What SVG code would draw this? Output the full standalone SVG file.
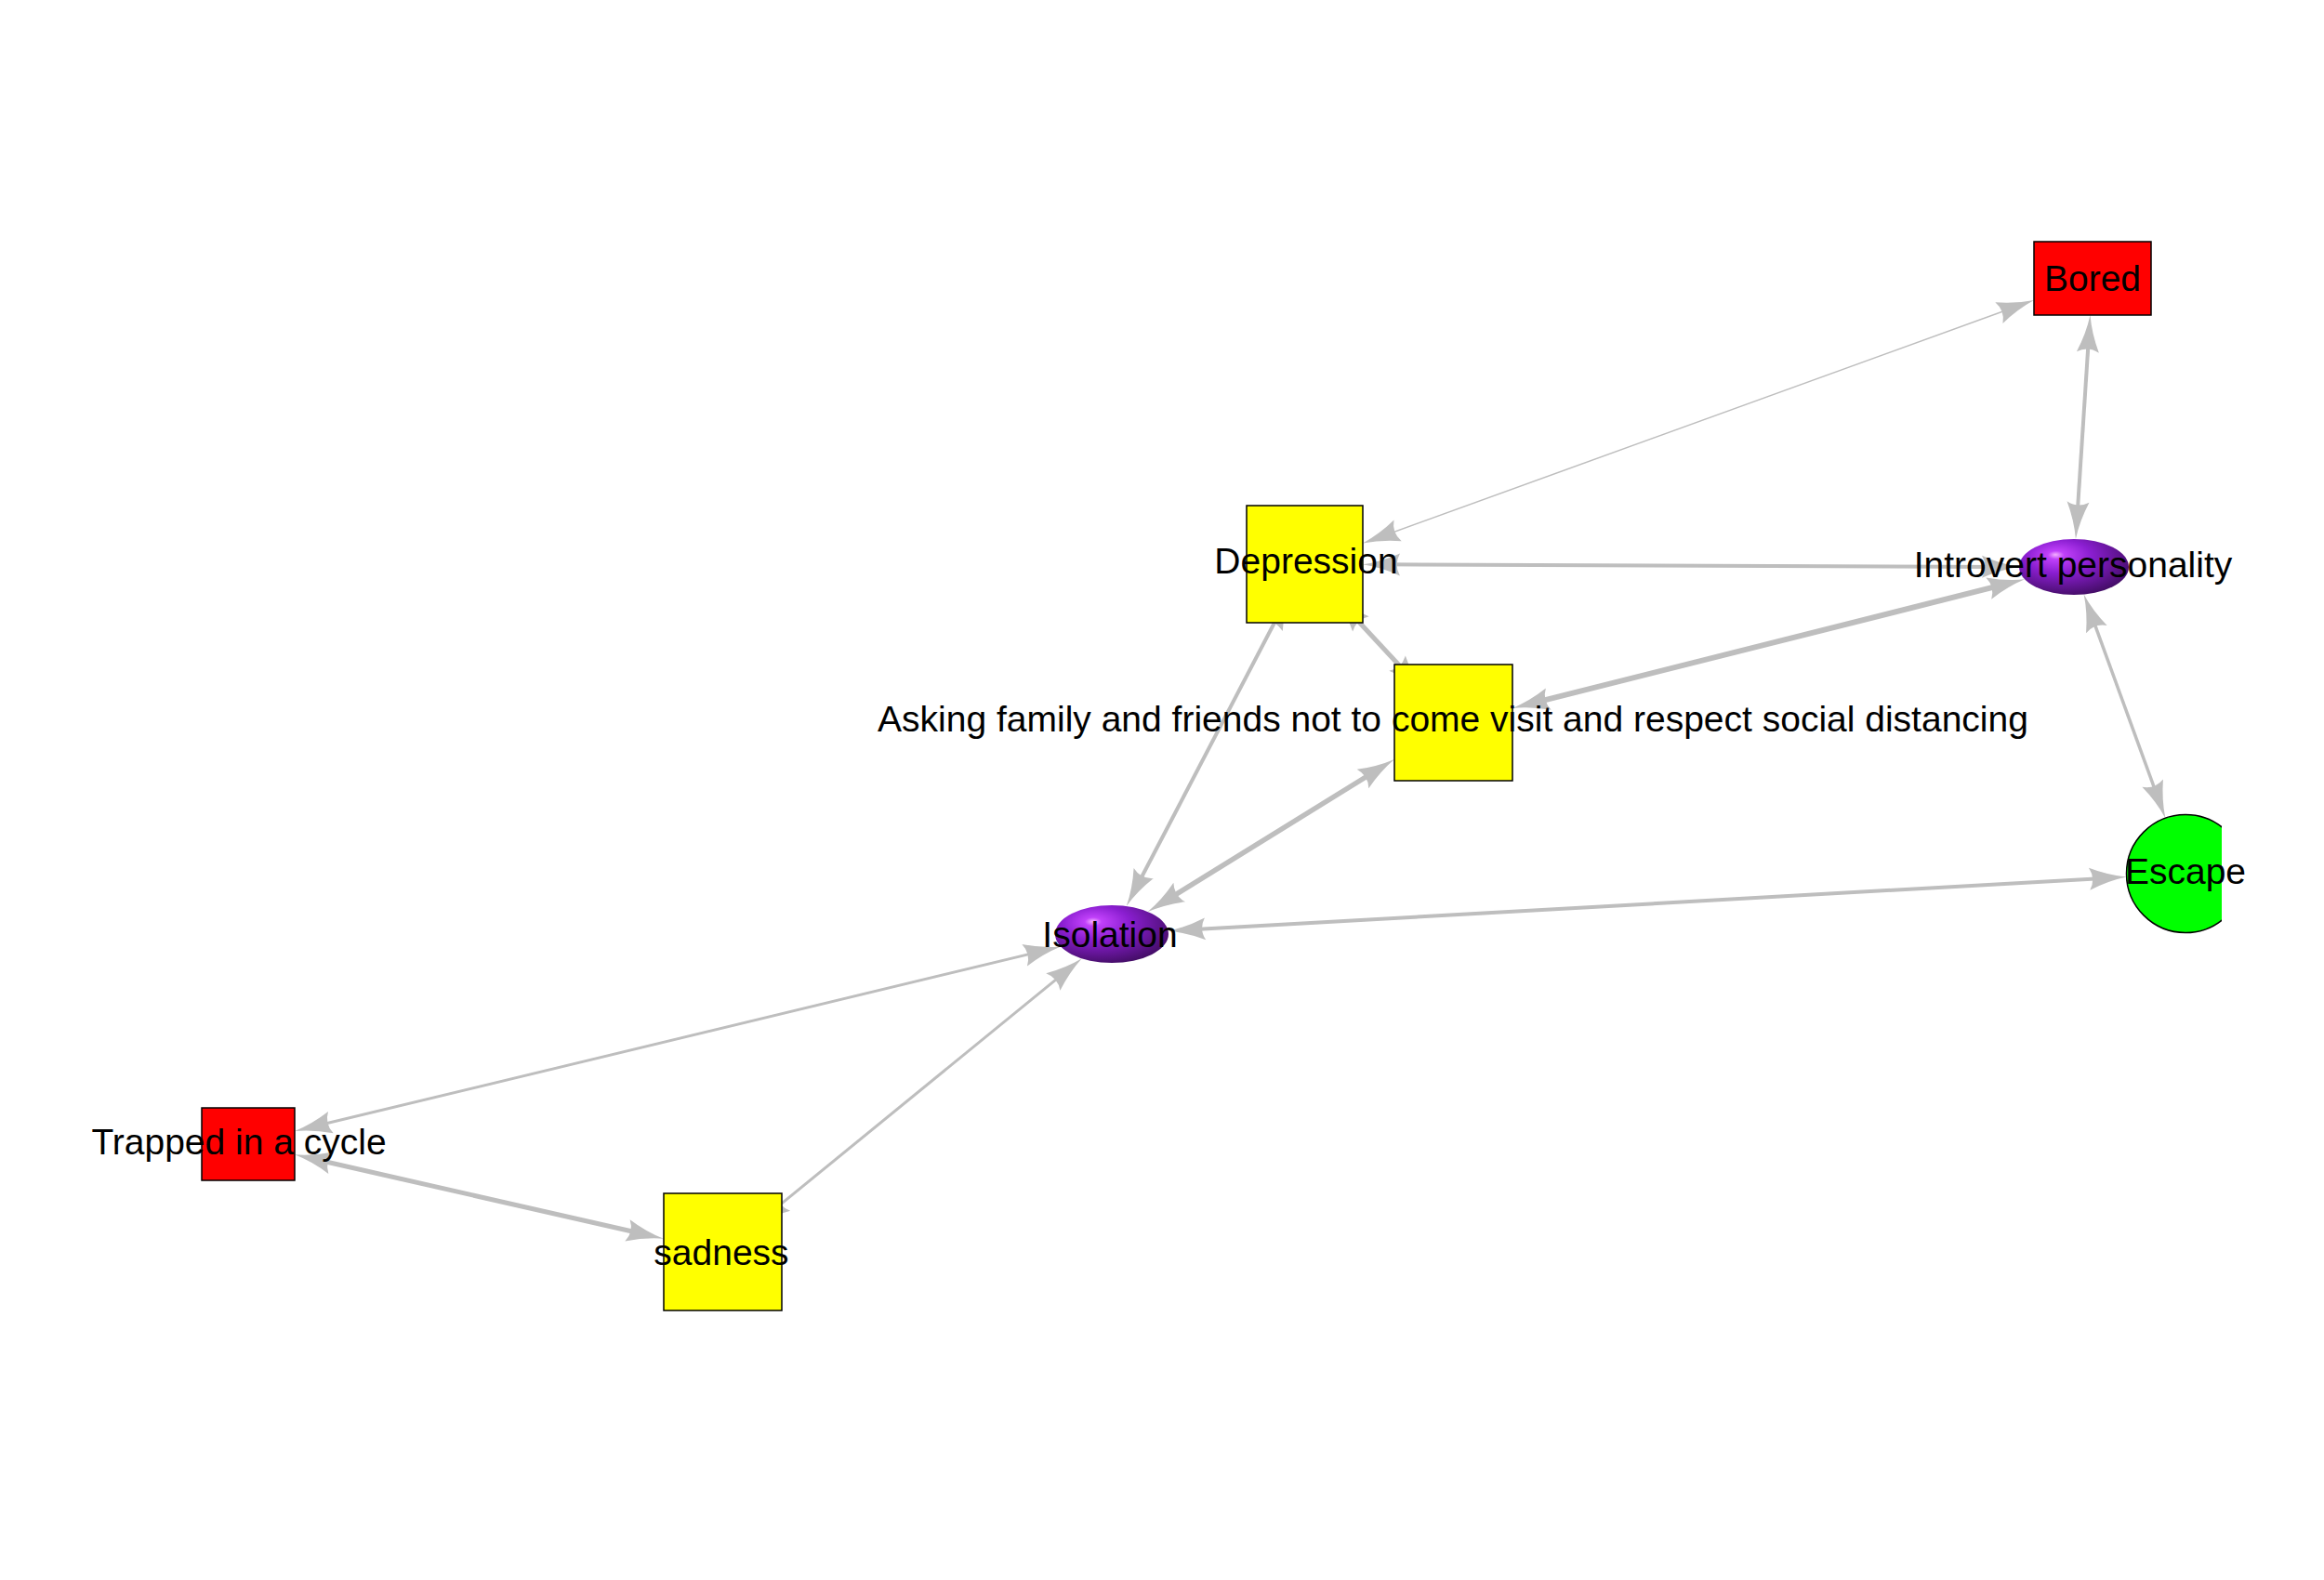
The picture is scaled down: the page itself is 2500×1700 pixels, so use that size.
<svg xmlns="http://www.w3.org/2000/svg" width="2500" height="1700" viewBox="0 0 2500 1700">
<style>
.edge{stroke:#bebebe;fill:none;marker-start:url(#arr);marker-end:url(#arr)}
.box{stroke:#000;stroke-width:1.5}
.yellow{fill:#ffff00}
.red{fill:#ff0000}
.lbl{font-family:"Liberation Sans",Arial,sans-serif;font-size:39px;fill:#000;text-anchor:middle}
</style>
<defs>
<marker id="arr" markerUnits="userSpaceOnUse" viewBox="-25 -15 50 30" markerWidth="50" markerHeight="30" refX="0" refY="0" orient="auto-start-reverse">
<path d="M20,0 Q0,-3 -20,-12 Q-13,0 -20,12 Q0,3 20,0 Z" fill="#bebebe"/>
</marker>
<radialGradient id="sphere" cx="0.4" cy="0.35" r="0.75" fx="0.33" fy="0.28">
<stop offset="0" stop-color="#f4b0ff"/>
<stop offset="0.1" stop-color="#c040fa"/>
<stop offset="0.4" stop-color="#8a1ed0"/>
<stop offset="1" stop-color="#380a55"/>
</radialGradient>
<clipPath id="plotclip"><rect x="0" y="0" width="2390" height="1700"/></clipPath>
</defs>
<rect width="2500" height="1700" fill="#ffffff"/>
<g id="connectors">
<line class="edge" stroke-width="1.5" x1="1484.8" y1="577.7" x2="2169.2" y2="329.8"/>
<line class="edge" stroke-width="4" x1="2247.2" y1="359" x2="2234.2" y2="560"/>
<line class="edge" stroke-width="4" x1="1486" y1="607.3" x2="2152" y2="609.9"/>
<line class="edge" stroke-width="5" x1="1450.3" y1="656.8" x2="1516.7" y2="728.2"/>
<line class="edge" stroke-width="4" x1="1378.4" y1="655.8" x2="1221" y2="957.3"/>
<line class="edge" stroke-width="5.5" x1="1251.7" y1="970.6" x2="1483" y2="827.5"/>
<line class="edge" stroke-width="6" x1="1646.4" y1="757.1" x2="2158.7" y2="628.2"/>
<line class="edge" stroke-width="3.5" x1="2248.5" y1="658.3" x2="2322.5" y2="861.5"/>
<line class="edge" stroke-width="4" x1="1276.6" y1="1000.5" x2="2267.6" y2="944.7"/>
<line class="edge" stroke-width="3" x1="1121.6" y1="1023.1" x2="336.4" y2="1212.3"/>
<line class="edge" stroke-width="3" x1="1148.3" y1="1043.9" x2="827.1" y2="1306.1"/>
<line class="edge" stroke-width="5" x1="336.5" y1="1246.8" x2="694.5" y2="1328.3"/>
</g>
<g id="node-bored">
<rect class="box red" x="2188" y="260" width="126" height="79"/>
<text class="lbl" x="2251" y="313">Bored</text>
</g>
<g id="node-depression">
<rect class="box yellow" x="1341" y="544" width="125" height="126"/>
<text class="lbl" x="1405" y="617">Depression</text>
</g>
<g id="node-introvert">
<ellipse cx="2231" cy="610" rx="59" ry="30" fill="url(#sphere)"/>
<text class="lbl" x="2230" y="621">Introvert personality</text>
</g>
<g id="node-asking">
<rect class="box yellow" x="1500" y="715" width="127" height="125"/>
<text class="lbl" x="1563" y="787">Asking family and friends not to come visit and respect social distancing</text>
</g>
<g id="node-escape">
<circle cx="2351" cy="940" r="63.5" fill="#00ff00" stroke="#000" stroke-width="1.5" clip-path="url(#plotclip)"/>
<text class="lbl" x="2351" y="951">Escape</text>
</g>
<g id="node-isolation">
<ellipse cx="1196" cy="1005" rx="61" ry="31" fill="url(#sphere)"/>
<text class="lbl" x="1194" y="1019">Isolation</text>
</g>
<g id="node-trapped">
<rect class="box red" x="217" y="1192" width="100" height="78"/>
<text class="lbl" x="257" y="1242">Trapped in a cycle</text>
</g>
<g id="node-sadness">
<rect class="box yellow" x="714" y="1284" width="127" height="126"/>
<text class="lbl" x="776" y="1361">sadness</text>
</g>
</svg>
